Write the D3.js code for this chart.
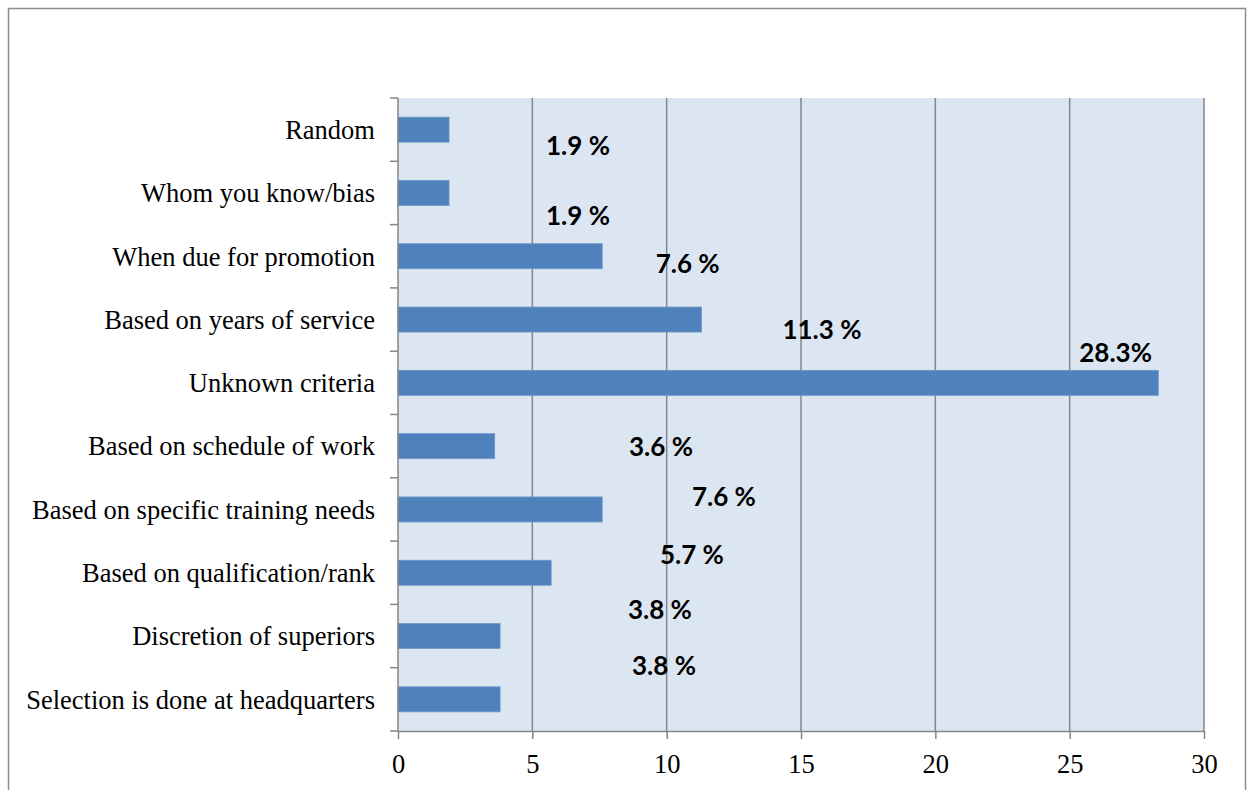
<!DOCTYPE html>
<html>
<head>
<meta charset="utf-8">
<script src="https://cdn.jsdelivr.net/npm/d3@7.9.0/dist/d3.min.js"></script>
<style>
  html, body { margin: 0; padding: 0; background: #fff; }
  svg { display: block; }
  .cat text, .xaxis text { font-family: "Liberation Serif", "Times New Roman", serif; font-size: 26.5px; fill: #000; }
  .val { font-family: Lato, "Open Sans", sans-serif; font-weight: bold; font-size: 26px; fill: #000; }
</style>
</head>
<body>
<svg width="1248" height="790"></svg>
<script>
const categories = [
  'Random',
  'Whom you know/bias',
  'When due for promotion',
  'Based on years of service',
  'Unknown criteria',
  'Based on schedule of work',
  'Based on specific training needs',
  'Based on qualification/rank',
  'Discretion of superiors',
  'Selection is done at headquarters'
];
const values = [1.9, 1.9, 7.6, 11.3, 28.3, 3.6, 7.6, 5.7, 3.8, 3.8];
const valueLabels = ['1.9 %', '1.9 %', '7.6 %', '11.3 %', '28.3%', '3.6 %', '7.6 %', '5.7 %', '3.8 %', '3.8 %'];
// where the labels sit, in value units and in category-row units
const labelAtValue = [6.7, 6.7, 10.78, 15.78, 26.71, 9.79, 12.13, 10.94, 9.75, 9.9];
const labelAtRow = [0.758, 1.864, 2.62, 3.665, 4.02, 5.51, 6.30, 7.22, 8.09, 8.97];
const xTicks = [0, 5, 10, 15, 20, 25, 30];

const svg = d3.select('svg');
const plotLeft = 398, plotRight = 1204, plotTop = 98, plotBottom = 731;
const gridColor = '#868686';

// outer frame
svg.append('rect')
  .attr('x', 8.5).attr('y', 8.5)
  .attr('width', 1237).attr('height', 800)
  .attr('fill', 'none').attr('stroke', '#8c8c8c').attr('stroke-width', 1.5);

let x = d3.scaleLinear().domain([0, 30]).range([plotLeft, plotRight]);
let y = d3.scaleBand().domain(categories).range([plotTop, plotBottom]).padding(0);
let row = d3.scaleLinear().domain([0, categories.length]).range([plotTop, plotBottom]);

// plot background
svg.append('rect')
  .attr('x', plotLeft).attr('y', plotTop)
  .attr('width', plotRight - plotLeft).attr('height', plotBottom - plotTop)
  .attr('fill', '#dce6f2');

// gridlines
svg.append('g')
  .selectAll('line')
  .data(xTicks.slice(1))
  .join('line')
  .attr('x1', d => x(d)).attr('x2', d => x(d))
  .attr('y1', plotTop).attr('y2', plotBottom)
  .attr('stroke', gridColor).attr('stroke-width', 1.5);

// bars
const barH = y.bandwidth() * 0.395;
svg.append('g')
  .selectAll('rect')
  .data(values)
  .join('rect')
  .attr('x', x(0))
  .attr('y', (d, i) => y(categories[i]) + (y.bandwidth() - barH) / 2)
  .attr('width', d => x(d) - x(0))
  .attr('height', barH)
  .attr('fill', '#4f81bd')
  .attr('stroke', '#6f97c8').attr('stroke-width', 0.8);

// x axis
const xAxis = svg.append('g')
  .attr('class', 'xaxis')
  .attr('transform', `translate(0,${plotBottom})`)
  .call(d3.axisBottom(x).tickValues(xTicks).tickSize(8).tickSizeOuter(0));
xAxis.select('.domain').attr('stroke', gridColor).attr('stroke-width', 1.5);
xAxis.selectAll('.tick line').attr('stroke', gridColor).attr('stroke-width', 1.5);
xAxis.selectAll('text').attr('y', 42).attr('dy', 0);

// y axis: line with ticks between categories
const yAxis = svg.append('g');
yAxis.append('line')
  .attr('x1', plotLeft).attr('x2', plotLeft).attr('y1', plotTop).attr('y2', plotBottom)
  .attr('stroke', gridColor).attr('stroke-width', 1.5);
yAxis.selectAll('.btick')
  .data(d3.range(categories.length + 1))
  .join('line')
  .attr('class', 'btick')
  .attr('x1', plotLeft - 8).attr('x2', plotLeft)
  .attr('y1', d => row(d)).attr('y2', d => row(d))
  .attr('stroke', gridColor).attr('stroke-width', 1.5);

// category labels
svg.append('g')
  .attr('class', 'cat')
  .selectAll('text')
  .data(categories)
  .join('text')
  .attr('x', plotLeft - 23)
  .attr('y', d => y(d) + y.bandwidth() / 2)
  .attr('dy', '0.35em')
  .attr('text-anchor', 'end')
  .text(d => d);

// value labels
svg.append('g')
  .selectAll('text')
  .data(valueLabels)
  .join('text')
  .attr('class', 'val')
  .attr('x', (d, i) => x(labelAtValue[i]))
  .attr('y', (d, i) => row(labelAtRow[i]))
  .attr('dy', '0.36em')
  .attr('text-anchor', 'middle')
  .text(d => d);
</script>
</body>
</html>
